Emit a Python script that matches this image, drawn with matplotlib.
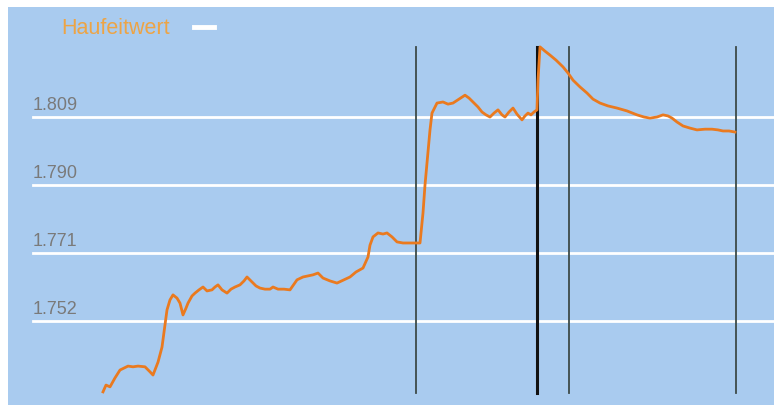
import matplotlib
matplotlib.use("Agg")
import matplotlib.pyplot as plt

# Messwerte (x = Zeitindex, y = Wert)
zeit = [0, 3, 7, 12, 17, 25, 30, 35, 42, 47,
        50, 55, 59, 62, 64, 67, 70, 74, 77, 80,
        83, 85, 89, 92, 96, 100, 104, 109, 112, 115,
        119, 124, 128, 132, 137, 141, 144, 149, 153, 157,
        162, 167, 170, 175, 181, 187, 191, 194, 200, 205,
        210, 215, 220, 227, 234, 241, 247, 253, 260, 265,
        267, 270, 275, 280, 284, 289, 294, 300, 307, 314,
        317, 320, 322, 324, 327, 329, 334, 340, 345, 350,
        356, 362, 366, 370, 375, 379, 383, 387, 391, 395,
        399, 402, 406, 410, 414, 419, 422, 425, 428, 431,
        434, 435, 437, 442, 447, 453, 460, 465, 470, 477,
        484, 490, 497, 505, 514, 524, 534, 541, 547, 554,
        560, 565, 569, 574, 580, 587, 594, 602, 609, 615,
        620, 626, 632]
werte = [1.7322, 1.7341, 1.7336, 1.7361, 1.7383, 1.7394, 1.7392, 1.7394, 1.7392, 1.7378,
         1.7369, 1.7405, 1.7447, 1.7509, 1.7551, 1.7579, 1.7593, 1.7584, 1.7570, 1.7537,
         1.7556, 1.7570, 1.7590, 1.7598, 1.7607, 1.7615, 1.7604, 1.7607, 1.7615, 1.7621,
         1.7607, 1.7598, 1.7609, 1.7615, 1.7621, 1.7632, 1.7643, 1.7629, 1.7618, 1.7612,
         1.7609, 1.7609, 1.7615, 1.7609, 1.7609, 1.7607, 1.7623, 1.7635, 1.7643, 1.7646,
         1.7649, 1.7654, 1.7640, 1.7632, 1.7626, 1.7635, 1.7643, 1.7657, 1.7668, 1.7699,
         1.7732, 1.7755, 1.7766, 1.7763, 1.7766, 1.7755, 1.7741, 1.7738, 1.7738, 1.7738,
         1.7738, 1.7822, 1.7900, 1.7961, 1.8054, 1.8101, 1.8129, 1.8132, 1.8126, 1.8129,
         1.8140, 1.8151, 1.8143, 1.8132, 1.8118, 1.8104, 1.8096, 1.8090, 1.8101, 1.8110,
         1.8096, 1.8090, 1.8104, 1.8115, 1.8098, 1.8082, 1.8093, 1.8101, 1.8096, 1.8104,
         1.8110, 1.8193, 1.8286, 1.8274, 1.8263, 1.8249, 1.8230, 1.8213, 1.8193, 1.8174,
         1.8157, 1.8140, 1.8129, 1.8121, 1.8115, 1.8107, 1.8096, 1.8090, 1.8087, 1.8090,
         1.8096, 1.8093, 1.8087, 1.8076, 1.8065, 1.8059, 1.8054, 1.8056, 1.8056, 1.8054,
         1.8051, 1.8051, 1.8048]

markierungen = [313, 434, 466, 633]
y_ticks = [1.752, 1.771, 1.790, 1.809]
y_labels = ["1.752", "1.771", "1.790", "1.809"]

plt.rcParams['font.family'] = ['Liberation Sans', 'DejaVu Sans']

fig = plt.figure(figsize=(7.74, 4.05), dpi=100, facecolor="white")
ax = fig.add_axes([8 / 774, 0, 766 / 774, 398 / 405])
ax.set_facecolor("#a9cbef")
ax.set_xlim(-95, 671)
ax.set_ylim(1.72853, 1.83974)
for s in ax.spines.values():
    s.set_visible(False)
ax.set_xticks([])
ax.set_yticks([])

for t, lab in zip(y_ticks, y_labels):
    ax.axhline(t, xmin=25 / 766, xmax=1, color="white", lw=2, zorder=1)
    ax.text(-70, t + 0.0019, lab, color="#7a7a7a", fontsize=13,
            ha="left", va="baseline", zorder=2)

for m in markierungen:
    ax.axvline(m, ymin=0.03, ymax=0.9, color="#3d4a48", lw=1.3, zorder=2)
ax.axvline(434, ymin=0.03, ymax=0.9, color="#111111", lw=2.2, zorder=2)

ax.plot(zeit, werte, color="#ea7a1f", lw=2, zorder=3)

# Legende
fig.text(61 / 774, 1 - 34 / 405, "Haufeitwert", color="#eda445", fontsize=15.5,
         ha="left", va="baseline")
fig.add_artist(plt.Line2D([194 / 774, 214 / 774], [1 - 27 / 405, 1 - 27 / 405],
                          color="white", lw=3.5))

fig.savefig("out.png", dpi=100, facecolor=fig.get_facecolor())
